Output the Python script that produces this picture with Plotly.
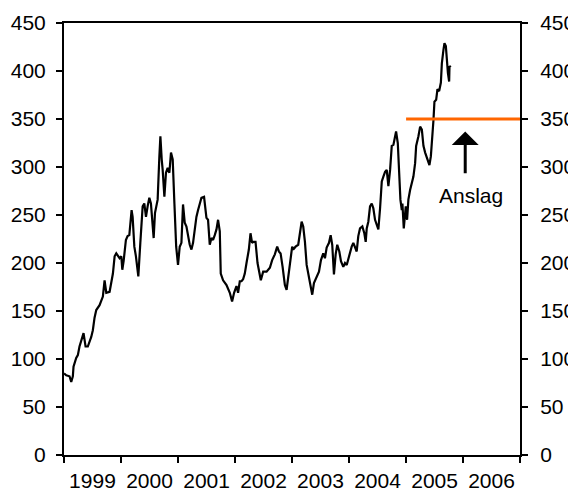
import pandas as pd
import plotly.graph_objects as go

# price index: years after 1 Jan 1999 and level
t_years = [
    0.000, 0.039, 0.097, 0.127, 0.155, 0.167, 0.214, 0.243, 0.272, 0.302,
    0.330, 0.343, 0.378, 0.418, 0.478, 0.506, 0.536, 0.566, 0.624, 0.654,
    0.682, 0.712, 0.742, 0.800, 0.858, 0.888, 0.917, 0.975, 1.005, 1.023,
    1.046, 1.086, 1.116, 1.146, 1.163, 1.186, 1.204, 1.234, 1.262, 1.304,
    1.339, 1.380, 1.409, 1.438, 1.467, 1.497, 1.525, 1.573, 1.596, 1.643,
    1.673, 1.691, 1.714, 1.731, 1.761, 1.789, 1.819, 1.849, 1.877, 1.907,
    1.937, 1.968, 2.000, 2.030, 2.060, 2.088, 2.118, 2.148, 2.206, 2.236,
    2.264, 2.293, 2.323, 2.351, 2.411, 2.457, 2.499, 2.527, 2.557, 2.587,
    2.615, 2.645, 2.675, 2.703, 2.733, 2.750, 2.791, 2.851, 2.909, 2.949,
    2.984, 3.026, 3.054, 3.084, 3.114, 3.142, 3.172, 3.202, 3.243, 3.272,
    3.300, 3.318, 3.360, 3.395, 3.436, 3.453, 3.494, 3.554, 3.612, 3.652,
    3.699, 3.740, 3.770, 3.800, 3.835, 3.875, 3.905, 3.933, 3.963, 4.003,
    4.021, 4.063, 4.109, 4.139, 4.169, 4.197, 4.227, 4.257, 4.297, 4.332,
    4.355, 4.385, 4.432, 4.473, 4.508, 4.548, 4.578, 4.608, 4.649, 4.678,
    4.706, 4.736, 4.766, 4.794, 4.830, 4.859, 4.900, 4.930, 4.960, 4.988,
    5.018, 5.047, 5.076, 5.105, 5.135, 5.163, 5.193, 5.234, 5.269, 5.293,
    5.311, 5.339, 5.369, 5.399, 5.427, 5.457, 5.487, 5.515, 5.545, 5.575,
    5.603, 5.633, 5.662, 5.691, 5.721, 5.750, 5.779, 5.808, 5.826, 5.856,
    5.879, 5.902, 5.926, 5.937, 5.961, 5.996, 6.019, 6.042, 6.072, 6.102,
    6.130, 6.160, 6.178, 6.218, 6.248, 6.278, 6.306, 6.336, 6.366, 6.411,
    6.436, 6.459, 6.482, 6.499, 6.529, 6.552, 6.582, 6.612, 6.629, 6.657,
    6.675, 6.699, 6.717, 6.735, 6.757, 6.763, 6.787,
]
level = [
    85, 83, 82, 76, 82, 92, 101, 104, 113, 118,
    125, 127, 113, 113, 123, 130, 143, 151, 156, 162,
    165, 182, 169, 170, 189, 207, 210, 205, 207, 193,
    202, 224, 228, 229, 245, 255, 248, 217, 207, 186,
    221, 259, 262, 248, 259, 268, 262, 226, 252, 266,
    311, 332, 308, 297, 269, 294, 299, 294, 315, 308,
    262, 217, 198, 217, 221, 261, 242, 238, 219, 214,
    221, 236, 248, 255, 268, 269, 247, 245, 219, 226,
    224, 229, 235, 245, 233, 189, 182, 177, 169, 160,
    169, 176, 169, 181, 181, 183, 189, 200, 214, 231,
    221, 222, 222, 200, 189, 182, 191, 191, 195, 203,
    209, 217, 212, 210, 196, 177, 172, 186, 203, 217,
    214, 217, 219, 229, 243, 238, 222, 198, 184, 176,
    167, 179, 186, 191, 203, 210, 205, 216, 221, 229,
    219, 188, 209, 219, 212, 202, 196, 200, 198, 205,
    210, 217, 221, 216, 212, 228, 236, 238, 231, 222,
    236, 243, 259, 262, 257, 245, 240, 235, 257, 285,
    290, 295, 297, 280, 297, 322, 323, 332, 337, 325,
    297, 266, 255, 262, 236, 259, 245, 266, 276, 285,
    290, 304, 322, 332, 342, 339, 322, 315, 309, 302,
    311, 328, 349, 368, 370, 381, 379, 388, 408, 422,
    429, 426, 405, 398, 389, 405, 404,
]

forecast_dates = ["2005-01-01", "2007-01-01"]
forecast_level = [350, 350]
forecast_label = "Anslag"

_FONT = dict(family="Liberation Sans, Arial, sans-serif", size=21, color="black")
_ORANGE = "#ff6600"

dates = pd.Timestamp("1999-01-01") + pd.to_timedelta([t * 365.25 for t in t_years], unit="D")

fig = go.Figure()
fig.add_scatter(x=dates, y=level, mode="lines",
                line=dict(color="black", width=2.2), yaxis="y")
fig.add_scatter(x=forecast_dates, y=forecast_level, mode="lines",
                line=dict(color=_ORANGE, width=3), yaxis="y2")

# arrow pointing up at the forecast line, label under it
fig.add_annotation(x="2006-01-15", y=337, ax="2006-01-15", ay=292,
                   xref="x", yref="y", axref="x", ayref="y",
                   showarrow=True, arrowhead=1, arrowsize=1.5, arrowwidth=3,
                   arrowcolor="black", text="")
fig.add_annotation(x="2006-02-20", y=270, xref="x", yref="y",
                   text=forecast_label, showarrow=False, font=_FONT)

_yax = dict(range=[0, 450], dtick=50, ticks="outside", ticklen=6, tickwidth=1.5,
            tickcolor="black", showline=True, linecolor="black", linewidth=2,
            showgrid=False, zeroline=False, tickfont=_FONT, automargin=False)

# the page body adds an 8px margin, so the figure is a bit smaller than the window
fig.update_layout(
    width=568, height=484,
    paper_bgcolor="white", plot_bgcolor="white",
    showlegend=False,
    margin=dict(l=56, r=56, t=15, b=37),
    font=_FONT,
    xaxis=dict(type="date", range=["1999-01-01", "2007-01-01"],
               tick0="1999-01-01", dtick="M12", tickformat="%Y",
               ticklabelmode="period", ticks="outside", ticklen=6, tickwidth=1.5,
               tickcolor="black", showline=True, linecolor="black", linewidth=2,
               mirror=True, showgrid=False, zeroline=False,
               ticklabelstandoff=0, tickfont=_FONT, automargin=False),
    yaxis=dict(side="left", ticklabelstandoff=6, **_yax),
    yaxis2=dict(side="right", overlaying="y", ticklabelstandoff=8, **_yax),
)

fig.write_html("out.html")
